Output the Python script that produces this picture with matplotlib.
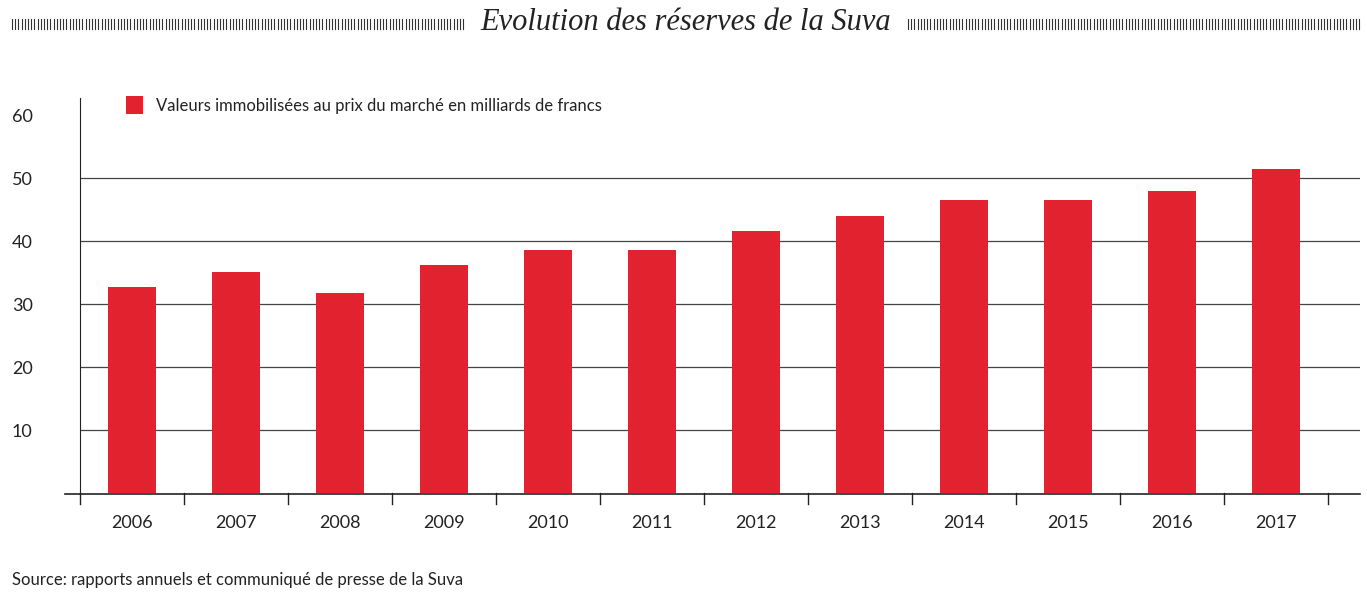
import matplotlib
matplotlib.use("Agg")
import matplotlib.pyplot as plt
import numpy as np

years = ["2006","2007","2008","2009","2010","2011","2012","2013","2014","2015","2016","2017"]
values = [32.7, 35.1, 31.7, 36.2, 38.6, 38.6, 41.6, 44.0, 46.5, 46.5, 47.9, 51.4]
yticks = [10, 20, 30, 40, 50, 60]

W, H = 1367, 600
fig = plt.figure(figsize=(W/100, H/100), dpi=100)
plt.rcParams['font.family'] = ['Lato', 'DejaVu Sans']
red = "#e2232f"

ax = fig.add_axes([80/W, 1-493/H, (1360-80)/W, (493-98)/H])
x = np.arange(len(years))
ax.bar(x, values, width=0.46, color=red, zorder=3,
       label="Valeurs immobilisées au prix du marché en milliards de francs")
ax.set_xlim(-0.5, 11.81)
ax.set_ylim(0, 62.7)
for v in yticks[:-1]:
    ax.axhline(v, color="#444444", lw=0.9, zorder=1)
for s in ["top", "right", "bottom"]:
    ax.spines[s].set_visible(False)
ax.spines["left"].set_color("#222222")
ax.set_yticks(yticks)
ax.set_yticklabels([str(v) for v in yticks], fontsize=13, color="#222222")
ax.tick_params(axis="y", length=0, pad=49)
for lab in ax.get_yticklabels():
    lab.set_horizontalalignment("left")
ax.set_xticks(x)
ax.set_xticklabels(years, fontsize=13, color="#222222")
ax.tick_params(axis="x", length=0, pad=16)
fig.add_artist(plt.Line2D([65/W, 1360/W], [1-494/H, 1-494/H], color="#222222", lw=1.2))
for b in np.arange(-0.5, 11.6, 1.0):
    ax.plot([b, b], [0, -1.8], color="#222222", lw=1, clip_on=False)

leg = ax.legend(loc="upper left", bbox_to_anchor=(38/1280, 1.025), frameon=False,
                fontsize=12, handlelength=1.0, handleheight=1.2, borderaxespad=0.1)
for t in leg.get_texts():
    t.set_color("#222222")

fig.text(686/W, 1-22/H, "Evolution des réserves de la Suva", ha="center", va="center",
         fontsize=22, style="italic", family="Liberation Serif", color="#222222")
xs_l = np.arange(12, 466, 3.2)
xs_r = np.arange(908, 1362, 3.2)
for xs in (xs_l, xs_r):
    for xx in xs:
        fig.add_artist(plt.Line2D([xx/W, xx/W], [1-19/H, 1-29/H], color="#333333", lw=0.8))

fig.text(12/W, 1-580/H, "Source: rapports annuels et communiqué de presse de la Suva",
         ha="left", va="center", fontsize=12, color="#222222")

fig.savefig("out.png", dpi=100)
